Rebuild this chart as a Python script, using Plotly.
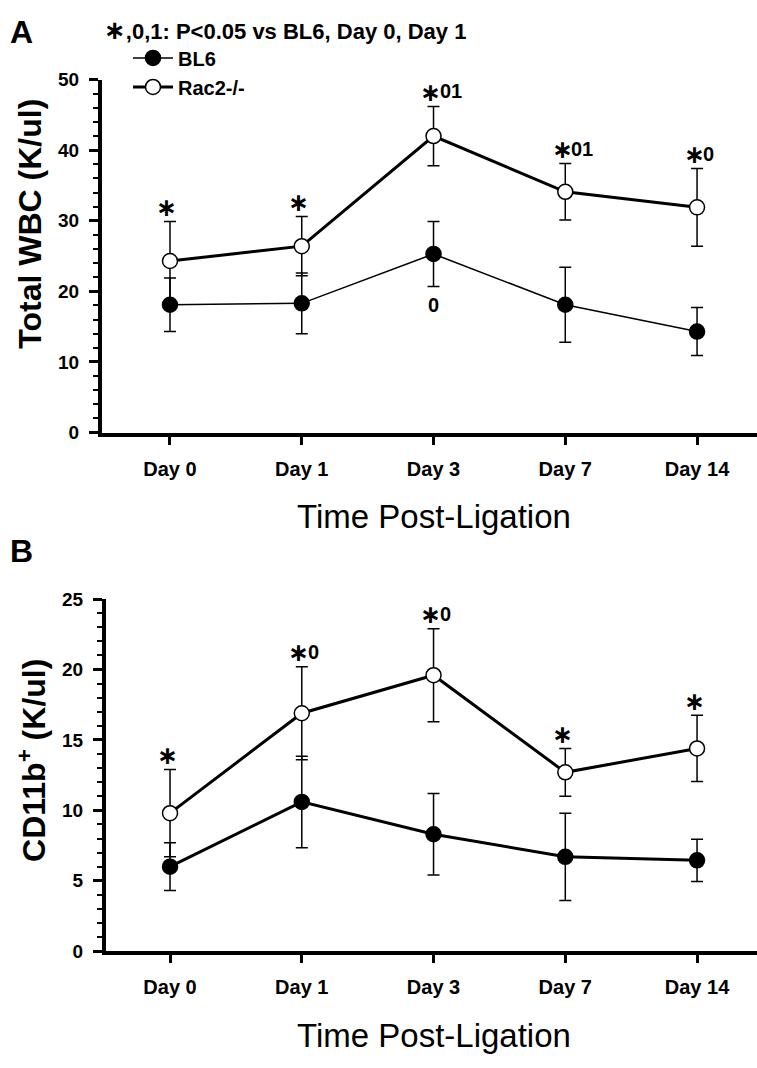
import plotly.graph_objects as go

# ---------------- data ----------------
days = ["Day 0", "Day 1", "Day 3", "Day 7", "Day 14"]

wbc_bl6 = [18.1, 18.3, 25.3, 18.1, 14.3]
wbc_bl6_err = [3.8, 4.3, 4.6, 5.3, 3.4]
wbc_rac2 = [24.3, 26.4, 42.0, 34.1, 31.9]
wbc_rac2_err = [5.6, 4.2, 4.2, 4.0, 5.5]
wbc_rac2_sig = ["*", "*", "*01", "*01", "*0"]
wbc_bl6_sig = ["", "", "0", "", ""]

cd11b_bl6 = [6.0, 10.6, 8.3, 6.7, 6.45]
cd11b_bl6_err = [1.7, 3.25, 2.9, 3.1, 1.5]
cd11b_rac2 = [9.8, 16.9, 19.6, 12.7, 14.4]
cd11b_rac2_err = [3.1, 3.3, 3.3, 1.7, 2.35]
cd11b_rac2_sig = ["*", "*0", "*0", "*", "*"]

W, H = 757, 1068
FONT = "Liberation Sans, Arial, sans-serif"
STAR_FONT = "DejaVu Sans"

def px_x(p):
    return p / W

def px_y(p):
    return 1 - p / H

fig = go.Figure()

def add_series(x, y, err, xa, ya, filled, lw, name, showlegend):
    fig.add_trace(go.Scatter(
        x=x, y=y, xaxis=xa, yaxis=ya, name=name, showlegend=showlegend,
        legendgroup=name,
        mode="lines+markers",
        line=dict(color="black", width=lw),
        marker=dict(size=15, symbol="circle",
                    color="black" if filled else "white",
                    line=dict(color="black", width=1.5)),
        error_y=dict(type="data", array=err, visible=True,
                     color="black", thickness=1.5, width=6),
        cliponaxis=False,
    ))

add_series(days, wbc_bl6, wbc_bl6_err, "x", "y", True, 1.5, "BL6", True)
add_series(days, wbc_rac2, wbc_rac2_err, "x", "y", False, 3, "Rac2-/-", True)
add_series(days, cd11b_bl6, cd11b_bl6_err, "x2", "y2", True, 3, "BL6", False)
add_series(days, cd11b_rac2, cd11b_rac2_err, "x2", "y2", False, 3, "Rac2-/-", False)

annotations = []

def sig_marks(sigs, means, errs, xref, yref, above=True, shift=13):
    for d, s, m, e in zip(days, sigs, means, errs):
        if not s:
            continue
        yv = m + e if above else m - e
        if s.startswith("*"):
            annotations.append(dict(
                x=d, y=yv, xref=xref, yref=yref, text="∗", showarrow=False,
                xanchor="center", yanchor="middle", xshift=-3, yshift=shift + 1,
                font=dict(family=STAR_FONT, size=25, color="black", weight="bold")))
            digits = s[1:]
            if digits:
                annotations.append(dict(
                    x=d, y=yv, xref=xref, yref=yref, text=digits, showarrow=False,
                    xanchor="left", yanchor="middle", xshift=4, yshift=shift + 2,
                    font=dict(family=FONT, size=20, color="black", weight="bold")))
        else:
            annotations.append(dict(
                x=d, y=yv, xref=xref, yref=yref, text=s, showarrow=False,
                xanchor="center", yanchor="middle",
                yshift=shift if above else -shift,
                font=dict(family=FONT, size=20, color="black", weight="bold")))

sig_marks(wbc_rac2_sig, wbc_rac2, wbc_rac2_err, "x", "y", True, 13)
sig_marks(wbc_bl6_sig, wbc_bl6, wbc_bl6_err, "x", "y", False, 19)
sig_marks(cd11b_rac2_sig, cd11b_rac2, cd11b_rac2_err, "x2", "y2", True, 13)

# panel letters and header
annotations += [
    dict(x=px_x(8), y=px_y(22), xref="paper", yref="paper", text="A",
         showarrow=False, xanchor="left", yanchor="middle",
         font=dict(family=FONT, size=32, color="black", weight="bold")),
    dict(x=px_x(8), y=px_y(552), xref="paper", yref="paper", text="B",
         showarrow=False, xanchor="left", yanchor="middle",
         font=dict(family=FONT, size=32, color="black", weight="bold")),
    dict(x=px_x(102), y=px_y(20), xref="paper", yref="paper",
         text="<span style='font-family:DejaVu Sans;font-size:26px'>∗</span>,0,1: P&lt;0.05 vs BL6, Day 0, Day 1",
         showarrow=False, xanchor="left", yanchor="middle",
         font=dict(family=FONT, size=22, color="black", weight="bold")),
    # axis titles
    dict(x=px_x(30), y=px_y(218), xref="paper", yref="paper", text="Total WBC (K/ul)",
         showarrow=False, textangle=-90, xanchor="center", yanchor="middle",
         font=dict(family=FONT, size=32, color="black", weight="bold")),
    dict(x=px_x(32), y=px_y(766), xref="paper", yref="paper", text="CD11b<sup>+</sup> (K/ul)",
         showarrow=False, textangle=-90, xanchor="center", yanchor="middle",
         font=dict(family=FONT, size=32, color="black", weight="bold")),
    dict(x=px_x(434), y=px_y(517), xref="paper", yref="paper", text="Time Post-Ligation",
         showarrow=False, xanchor="center", yanchor="middle",
         font=dict(family=FONT, size=33, color="black")),
    dict(x=px_x(434), y=px_y(1046), xref="paper", yref="paper", text="Time Post-Ligation",
         showarrow=False, xanchor="center", yanchor="middle",
         font=dict(family=FONT, size=33, color="black")),
]

xcommon = dict(
    showline=True, linewidth=4, linecolor="black", mirror=False,
    ticks="outside", ticklen=8, tickwidth=3, tickcolor="black",
    tickfont=dict(family=FONT, size=20, color="black", weight="bold"),
    ticklabelstandoff=7, showgrid=False, zeroline=False,
)
ycommon = dict(
    showline=True, linewidth=4, linecolor="black",
    ticks="outside", ticklen=9, tickwidth=3, tickcolor="black",
    tickfont=dict(family=FONT, size=19, color="black", weight="bold"),
    ticklabelstandoff=6, showgrid=False, zeroline=False,
)

fig.update_layout(
    width=W, height=H,
    margin=dict(l=0, r=0, t=0, b=0),
    paper_bgcolor="white", plot_bgcolor="white",
    font=dict(family=FONT, color="black"),
    xaxis=dict(domain=[px_x(102), 1], range=[-0.516, 4.455], anchor="y", **xcommon),
    yaxis=dict(domain=[px_y(431), px_y(71)], range=[0, 50], dtick=10, anchor="x",
               minor=dict(dtick=2, ticks="outside", ticklen=5, tickwidth=2, tickcolor="black", showgrid=False),
               **ycommon),
    xaxis2=dict(domain=[px_x(106), 1], range=[-0.486, 4.455], anchor="y2", **xcommon),
    yaxis2=dict(domain=[px_y(960), px_y(601)], range=[0, 25], dtick=5, anchor="x2",
                minor=dict(dtick=1, ticks="outside", ticklen=5, tickwidth=2, tickcolor="black", showgrid=False),
                **ycommon),
    legend=dict(x=px_x(128), y=px_y(29), xanchor="left", yanchor="top",
                bgcolor="rgba(0,0,0,0)", tracegroupgap=0, itemwidth=40,
                font=dict(family=FONT, size=20, color="black", weight="bold")),
    annotations=annotations,
    showlegend=True,
)

fig.write_html("out.html")
